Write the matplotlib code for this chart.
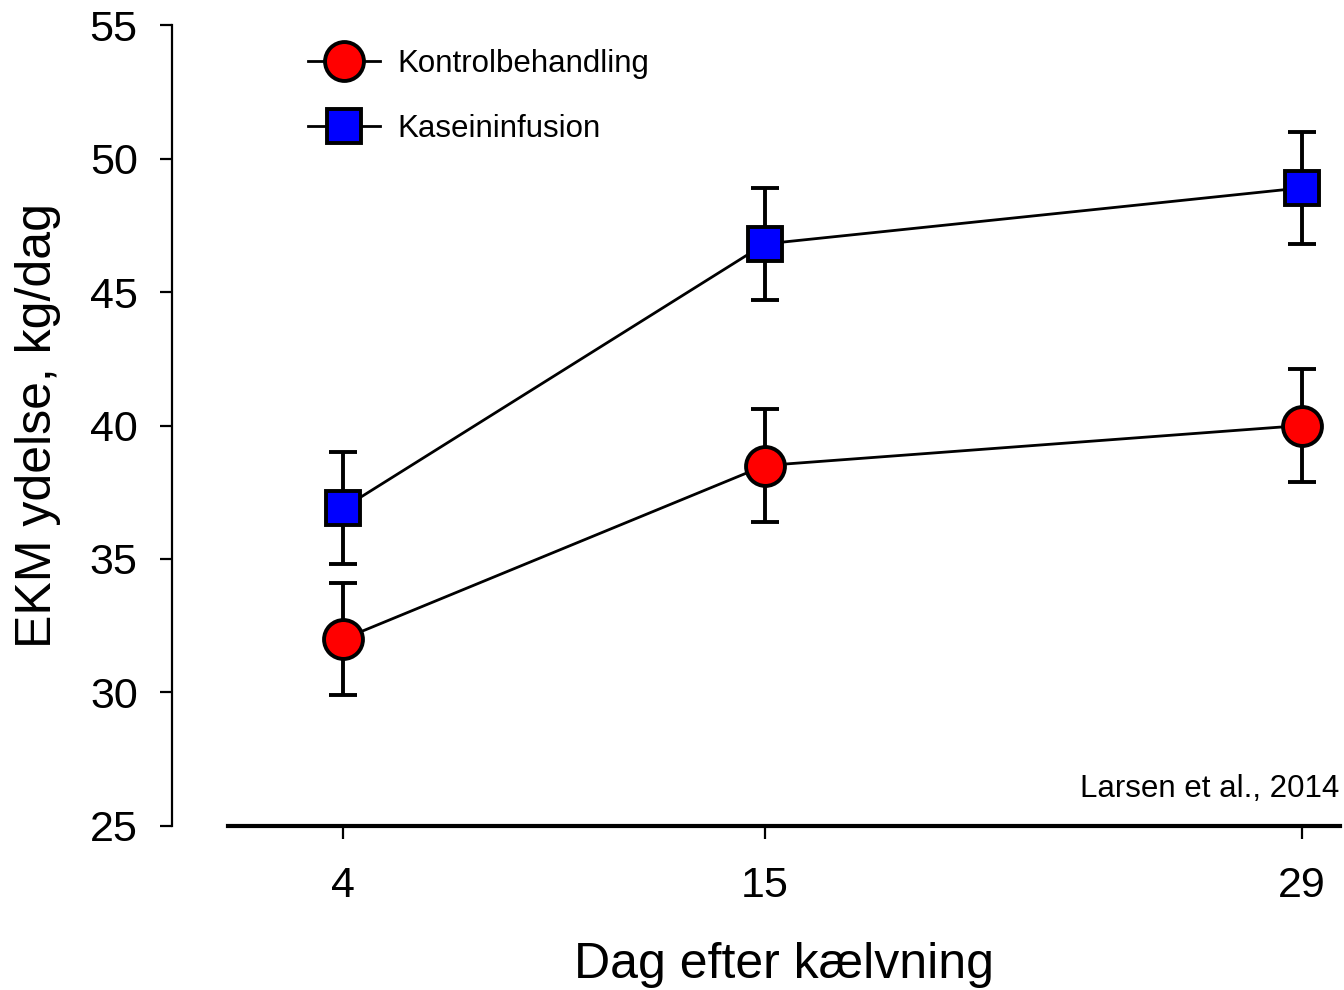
import matplotlib.pyplot as plt
from matplotlib.lines import Line2D

plt.rcParams['font.family'] = ['Liberation Sans', 'DejaVu Sans']

days = [4, 15, 29]
kontrol = [32.0, 38.5, 40.0]
kontrol_err = [2.1, 2.1, 2.1]
kasein = [36.9, 46.8, 48.9]
kasein_err = [2.1, 2.1, 2.1]
y_ticks = [25, 30, 35, 40, 45, 50, 55]


def main():
    fig = plt.figure(figsize=(13.44, 9.9), dpi=100)
    ax = fig.add_axes([0.1696, 0.1657, 0.8274, 0.809])

    # Kontrolbehandling (rode cirkler)
    ax.errorbar(days, kontrol, yerr=kontrol_err, color='black', lw=2.0,
                elinewidth=2.8, capsize=10, capthick=2.8, marker='o',
                markersize=28, markerfacecolor='#ff0000',
                markeredgecolor='black', markeredgewidth=2.8, zorder=3)

    # Kaseininfusion (blaa firkanter)
    ax.errorbar(days, kasein, yerr=kasein_err, color='black', lw=2.0,
                elinewidth=2.8, capsize=10, capthick=2.8, marker='s',
                markersize=25, markerfacecolor='#0000ff',
                markeredgecolor='black', markeredgewidth=2.8, zorder=3)

    ax.set_xlim(1, 30)
    ax.set_ylim(25, 55)
    ax.set_xticks(days)
    ax.set_yticks(y_ticks)

    ax.spines['top'].set_visible(False)
    ax.spines['right'].set_visible(False)
    ax.spines['left'].set_position(('outward', 40))
    ax.spines['left'].set_linewidth(1.6)
    ax.spines['bottom'].set_linewidth(3)

    ax.tick_params(axis='y', labelsize=31, width=1.6, length=9, pad=16)
    ax.tick_params(axis='x', labelsize=31, width=1.6, length=9, pad=20)

    ax.set_ylabel('EKM ydelse, kg/dag', fontsize=36)
    ax.yaxis.set_label_coords(-0.150, 0.5)
    ax.set_xlabel('Dag efter kælvning', fontsize=36)
    ax.xaxis.set_label_coords(0.5, -0.145)

    ax.text(0.999, 0.036, 'Larsen et al., 2014', transform=ax.transAxes,
            ha='right', va='baseline', fontsize=22.5)

    # legende uden fejllinjer
    handles = [
        Line2D([], [], color='black', lw=2.0, marker='o', markersize=28,
               markerfacecolor='#ff0000', markeredgecolor='black',
               markeredgewidth=2.8),
        Line2D([], [], color='black', lw=2.0, marker='s', markersize=25,
               markerfacecolor='#0000ff', markeredgecolor='black',
               markeredgewidth=2.8),
    ]
    ax.legend(handles, ['Kontrolbehandling', 'Kaseininfusion'],
              loc='upper left', bbox_to_anchor=(0.072, 0.970),
              fontsize=22.5, frameon=False, handlelength=2.3,
              labelspacing=1.12, handletextpad=0.57, borderpad=0,
              borderaxespad=0)

    plt.savefig('out.png', dpi=100)


if __name__ == '__main__':
    main()
